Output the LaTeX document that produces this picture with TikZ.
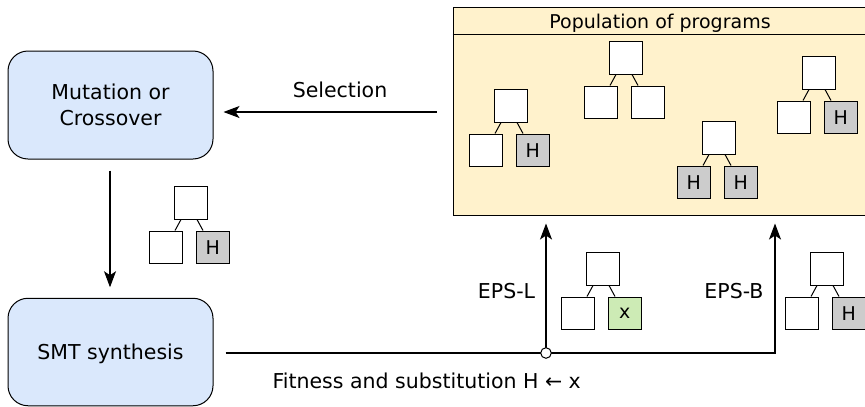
\documentclass[tikz,border=0pt]{standalone}
\usepackage{fontspec}
\setmainfont{DejaVu Sans}
\usetikzlibrary{arrows.meta}
\definecolor{boxblue}{HTML}{DAE8FC}
\definecolor{popyellow}{HTML}{FFF2CC}
\definecolor{hgray}{HTML}{CCCCCC}
\definecolor{xgreen}{HTML}{CDEBB5}
\tikzset{
  tbox/.style={draw=black, line width=1pt, fill=white, minimum size=32.5pt, inner sep=0pt, anchor=north west, font=\fontsize{19}{22}\selectfont},
  hbox/.style={fill=hgray},
  xbox/.style={fill=xgreen},
  plain/.style={},
  tline/.style={draw=black, line width=1pt},
  bigbox/.style={draw=black, line width=1pt, fill=boxblue, rounded corners=20pt, minimum width=205pt, align=center, font=\fontsize{20.5}{26.7}\selectfont, inner sep=0pt},
  lbl/.style={font=\fontsize{20.5}{24}\selectfont, inner sep=0pt, anchor=base},
  conn/.style={draw=black, line width=1.1pt},
  arr/.style={conn, -{Stealth[length=16pt, width=12pt, inset=4pt]}},
}
\newcommand\ptree[7]{%
  \node[tbox] (#1r) at (#2,#3) {};
  \node[tbox,#4] (#1a) at (#2-25,#3+44.5) {#5};
  \node[tbox,#6] (#1b) at (#2+22,#3+44.5) {#7};
  \draw[tline] ([xshift=7pt]#1r.south west) -- ([xshift=-7.5pt]#1a.north east);
  \draw[tline] ([xshift=-10.5pt]#1r.south east) -- ([xshift=7pt]#1b.north west);
}
\begin{document}
\begin{tikzpicture}[x=1pt, y=-1pt]
\useasboundingbox (0,0) rectangle (865,407);

% population box
\node[draw=black, line width=1pt, fill=popyellow, minimum width=415pt, minimum height=208pt, inner sep=0pt] (pop) at (660.5,111) {};
\draw[line width=1pt] (pop.west |- 0,34) -- (pop.east |- 0,34);
\node[lbl, font=\fontsize{19}{22}\selectfont] (poptitle) at (660,28.3) {Population of programs};

% process boxes
\node[bigbox, minimum height=108pt] (mut) at (110.5,105) {Mutation or\\Crossover};
\node[bigbox, minimum height=107.5pt, text height=15pt, text depth=0pt] (smt) at (110.5,352) {SMT synthesis};

% trees in population
\ptree{pa}{494}{89}{plain}{}{hbox}{H}
\ptree{pb}{609}{41}{plain}{}{plain}{}
\ptree{pc}{702}{121}{hbox}{H}{hbox}{H}
\ptree{pd}{802}{56}{plain}{}{hbox}{H}
% other trees
\ptree{ma}{174}{186}{plain}{}{hbox}{H}
\ptree{la}{586}{252}{plain}{}{xbox}{x}
\ptree{ba}{810}{252}{plain}{}{hbox}{H}

% connectors
\draw[arr, shorten <=16pt, shorten >=10pt] (pop.west |- 0,112) -- (mut.east |- 0,112);
\node[lbl] (sel) at (340,97.5) {Selection};

\draw[arr, shorten <=11pt, shorten >=10.5pt] (mut.south -| 110,0) -- (smt.north -| 110,0);

\coordinate (j) at (546,353);
\coordinate (bend) at (775,353);
\draw[conn, shorten <=12pt] (smt.east |- j) -- (j);
\draw[arr, shorten >=8pt] (j) -- (bend) -- (bend |- pop.south);
\draw[arr, shorten >=8pt] (j) -- (j |- pop.south);
\node[circle, draw=black, line width=1pt, fill=white, minimum size=10.6pt, inner sep=0pt] (jc) at (j) {};

\node[lbl] (epsl) at (506.5,298.3) {EPS-L};
\node[lbl] (epsb) at (734,298.3) {EPS-B};
\node[lbl] (fit) at (426.7,388.3) {Fitness and substitution H ← x};
\end{tikzpicture}
\end{document}
